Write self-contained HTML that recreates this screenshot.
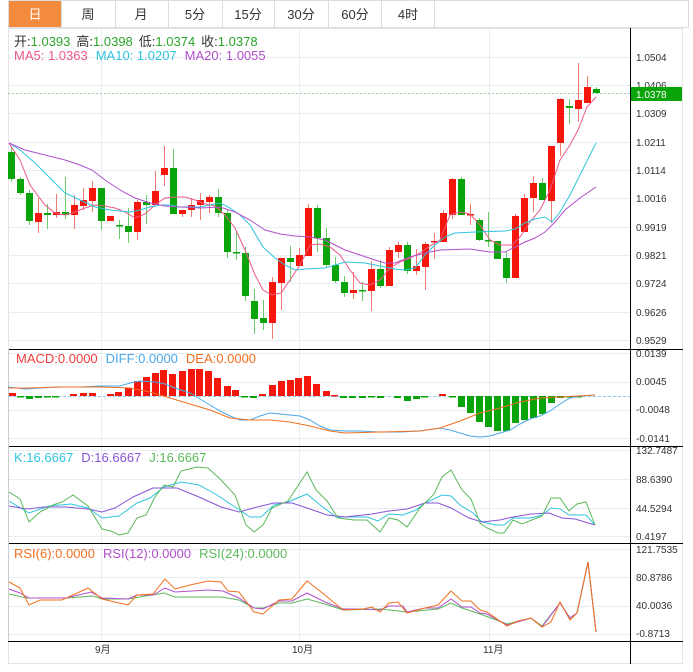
<!DOCTYPE html>
<html><head><meta charset="utf-8">
<style>
body{margin:0;background:#fff;width:693px;height:672px;overflow:hidden;font-family:"Liberation Sans","Noto Sans CJK SC",sans-serif;}
svg{position:absolute;left:0;top:0}
text{font-family:"Liberation Sans","Noto Sans CJK SC",sans-serif;}
</style></head><body>
<svg id="s" width="693" height="672" xmlns="http://www.w3.org/2000/svg">
<!-- tabs -->
<rect x="8.5" y="0.5" width="680" height="27" fill="#fff" stroke="#ddd"/>
<rect x="9" y="1" width="52" height="26" fill="#f38a3e"/>
<g stroke="#ddd"><line x1="61.5" y1="0" x2="61.5" y2="28"/><line x1="115.5" y1="0" x2="115.5" y2="28"/><line x1="168.5" y1="0" x2="168.5" y2="28"/><line x1="222.5" y1="0" x2="222.5" y2="28"/><line x1="274.5" y1="0" x2="274.5" y2="28"/><line x1="328.5" y1="0" x2="328.5" y2="28"/><line x1="381.5" y1="0" x2="381.5" y2="28"/><line x1="434.5" y1="0" x2="434.5" y2="28"/></g>
<g font-size="13" text-anchor="middle" fill="#333">
<text x="35" y="19" fill="#fff">日</text><text x="88" y="19">周</text><text x="141" y="19">月</text><text x="195" y="19">5分</text><text x="248" y="19">15分</text><text x="301" y="19">30分</text><text x="355" y="19">60分</text><text x="408" y="19">4时</text>
</g>
<!-- frame -->
<rect x="8.5" y="28.5" width="674" height="635" fill="none" stroke="#e4e4e4"/>
<g id="grid" stroke="#e6eef3" stroke-width="1"></g>
<g stroke="#000"><line x1="8" y1="349.5" x2="683" y2="349.5"/><line x1="8" y1="446.5" x2="683" y2="446.5"/><line x1="8" y1="543.5" x2="683" y2="543.5"/><line x1="8" y1="641.5" x2="683" y2="641.5"/><line x1="630.5" y1="28" x2="630.5" y2="664"/><line x1="8.5" y1="349" x2="8.5" y2="641" stroke="#ccc"/></g>
<g id="plot"></g>
<!-- axis labels -->
<g font-size="10" fill="#333" id="ax">
<text x="636" y="61">1.0504</text><text x="636" y="89">1.0406</text><text x="636" y="117">1.0309</text><text x="636" y="146">1.0211</text><text x="636" y="174">1.0114</text><text x="636" y="202">1.0016</text><text x="636" y="231">0.9919</text><text x="636" y="259">0.9821</text><text x="636" y="287">0.9724</text><text x="636" y="316">0.9626</text><text x="636" y="344">0.9529</text>
<text x="636" y="357">0.0139</text><text x="636" y="385">0.0045</text><text x="636" y="413">-0.0048</text><text x="636" y="442">-0.0141</text>
<text x="636" y="454">132.7487</text><text x="636" y="483">88.6390</text><text x="636" y="512">44.5294</text><text x="636" y="540">0.4197</text>
<text x="636" y="553">121.7535</text><text x="636" y="581">80.8786</text><text x="636" y="609">40.0036</text><text x="636" y="637">-0.8713</text>
<text x="95" y="653">9月</text><text x="292" y="653">10月</text><text x="483" y="653">11月</text>
</g>
<rect x="631" y="87" width="51" height="14" fill="#09a30a"/>
<text x="636" y="98" font-size="10" fill="#fff">1.0378</text>
<!-- legends -->
<g font-size="13">
<text x="14" y="46"><tspan fill="#333">开:</tspan><tspan fill="#2aa52a">1.0393</tspan><tspan fill="#333" dx="6">高:</tspan><tspan fill="#2aa52a">1.0398</tspan><tspan fill="#333" dx="6">低:</tspan><tspan fill="#2aa52a">1.0374</tspan><tspan fill="#333" dx="6">收:</tspan><tspan fill="#2aa52a">1.0378</tspan></text>
<text x="14" y="60"><tspan fill="#ee5a86">MA5: 1.0363</tspan><tspan fill="#2fc4de" dx="8">MA10: 1.0207</tspan><tspan fill="#b34fcc" dx="8">MA20: 1.0055</tspan></text>
<text x="16" y="363"><tspan fill="#f03c3c">MACD:0.0000</tspan><tspan fill="#4aa8e8" dx="8">DIFF:0.0000</tspan><tspan fill="#f07020" dx="8">DEA:0.0000</tspan></text>
<text x="14" y="462"><tspan fill="#2fc4de">K:16.6667</tspan><tspan fill="#8a55d6" dx="8">D:16.6667</tspan><tspan fill="#5cb85c" dx="8">J:16.6667</tspan></text>
<text x="14" y="558"><tspan fill="#f07020">RSI(6):0.0000</tspan><tspan fill="#b34fcc" dx="8">RSI(12):0.0000</tspan><tspan fill="#5cb85c" dx="8">RSI(24):0.0000</tspan></text>
</g>
</svg>
<script>
var NS="http://www.w3.org/2000/svg",g=document.getElementById('plot'),gr=document.getElementById('grid');
function el(p,t,a){var e=document.createElementNS(NS,t);for(var k in a)e.setAttribute(k,a[k]);p.appendChild(e);return e;}
[57,85,113,142,170,198,227,255,283,312,340,353,382,410,438,450,479,508,536,549,577,606,634].forEach(function(y){el(gr,'line',{x1:8,x2:630,y1:y+.5,y2:y+.5});});
[101,299,489].forEach(function(x){el(gr,'line',{x1:x+.5,x2:x+.5,y1:28,y2:641});});
el(g,'line',{x1:8,x2:630,y1:93.5,y2:93.5,stroke:'#9fd49f','stroke-dasharray':'2,2'});
el(g,'line',{x1:8,x2:630,y1:396.5,y2:396.5,stroke:'#8ccfe8','stroke-dasharray':'3,2'});
var C=[[152,179,147,182,0],[179,193,177,195,0],[193,221,190,225,0],[213,222,198,233,1],[213,215,204,229,0],[212,215,194,218,1],[212,215,177,219,0],[205,215,195,229,1],[200,206,188,210,1],[188,201,181,212,1],[188,221,188,230,0],[216,221,216,221,1],[225,226,220,239,0],[226,232,208,243,0],[202,232,200,240,1],[202,205,195,224,0],[191,205,171,205,1],[168,175,146,186,1],[168,214,149,214,0],[210,214,210,217,1],[205,210,198,217,1],[200,205,193,220,1],[197,202,195,213,1],[197,213,189,217,0],[213,252,210,258,0],[252,253,231,260,0],[253,296,247,301,0],[301,319,289,334,0],[318,323,300,330,0],[282,323,277,339,1],[258,283,258,310,1],[258,262,246,282,0],[255,266,248,266,1],[208,256,204,256,1],[208,238,205,252,0],[238,265,228,268,0],[265,281,257,283,0],[282,293,276,297,0],[290,293,272,299,1],[290,291,282,301,0],[269,291,261,311,1],[269,286,260,288,0],[250,286,247,286,1],[245,252,242,258,1],[245,271,242,274,0],[266,271,249,275,1],[244,267,242,290,1],[241,242,233,259,1],[213,242,210,242,1],[179,215,178,219,1],[179,215,177,215,0],[214,215,204,225,1],[220,240,218,241,0],[240,241,212,247,0],[241,259,241,259,0],[258,278,252,283,0],[216,278,214,278,1],[198,232,194,232,1],[183,198,176,212,1],[183,200,178,200,0],[146,201,146,223,1],[99,143,98,156,1],[106,108,99,124,0],[100,109,63,122,1],[87,103,76,103,1],[89,93,87,93,0]];
C.forEach(function(c,i){var x=11+9*i,col=c[4]?'#f5170b':'#09a30a',wc=c[4]?'#f07a72':'#6ccb6c';
el(g,'line',{x1:x+.5,x2:x+.5,y1:c[2],y2:c[3],stroke:wc});
el(g,'rect',{x:x-3,y:c[0],width:7,height:Math.max(1.5,c[1]-c[0]),fill:col});});
function pl(pts,col){el(g,'polyline',{points:pts,fill:'none',stroke:col,'stroke-width':1});}
pl("9,143 20,160 30,185 45,205 55,213 65,215 75,212 85,208 95,205 105,206 115,208 125,212 135,218 145,214 155,205 165,198 175,197 185,197 195,200 205,204 215,206 225,215 235,228 245,250 255,275 263,290 272,295 281,293 290,280 300,265 310,245 320,244 330,247 340,255 350,270 360,283 370,285 380,280 390,268 400,262 410,258 420,253 430,246 440,240 450,215 460,212 470,214 480,225 490,240 500,245 512,245 520,237 530,222 540,210 550,190 560,160 570,145 578,130 587,107 596,97","#ee5a86");
pl("9,143 20,150 35,163 50,178 65,193 80,200 95,207 110,210 120,211 130,212 140,210 150,207 160,205 170,205 180,207 200,207 210,205 220,203 230,208 240,215 250,225 263,247 275,258 285,265 295,270 305,269 325,268 335,265 345,262 365,263 375,265 385,267 395,269 405,270 415,268 425,255 435,245 445,237 455,233 475,232 505,231 515,229 525,223 535,219 545,217 552,222 560,212 570,195 580,175 596,143","#2fc4de");
pl("9,143 25,150 45,155 65,160 80,165 92,170 105,180 120,190 135,198 150,203 165,206 180,207 200,208 220,207 235,212 250,220 265,230 280,234 295,236 310,237 325,240 335,245 345,250 360,255 375,260 385,263 395,263 410,257 425,253 440,250 470,249 490,252 505,252 515,247 525,242 535,238 545,232 555,222 565,210 580,198 596,187","#b34fcc");
var M=[[12,393],[20,397],[29,399],[38,398],[47,397],[55,397],[73,394],[83,393],[92,393],[110,394],[118,392],[128,388],[137,381],[146,377],[155,373],[163,370],[172,374],[182,371],[191,369],[199,369],[208,371],[217,378],[227,386],[235,390],[244,397],[253,398],[262,394],[272,385],[281,381],[290,380],[298,378],[307,376],[316,384],[326,391],[334,395],[343,398],[352,398],[362,398],[371,397],[380,398],[397,398],[407,401],[416,399],[424,397],[442,394],[452,397],[461,407],[470,413],[479,422],[488,427],[497,431],[506,431],[515,423],[524,420],[533,418],[542,414],[551,403],[560,398],[569,397],[578,397]];
M.forEach(function(m){var y0=396,y=m[1];var up=y<y0;el(g,'rect',{x:m[0]-3,y:Math.min(y,y0),width:7,height:Math.max(1.5,Math.abs(y-y0)),fill:up?'#f5170b':'#09a30a'});});
pl("8,387 25,389 40,388 60,387 80,387 100,386 120,386 130,383 140,381 155,382 165,384 175,388 190,393 200,399 210,405 220,411 230,416 240,420 250,420 260,416 270,413 280,414 300,416 310,420 320,426 330,430 345,431 360,431 380,432 400,432 420,431 440,428 450,430 460,433 470,436 480,437 490,436 500,433 510,430 520,424 530,419 540,416 550,411 560,404 570,398 580,396 595,395","#4aa8e8");
pl("8,388 30,388 60,387 100,387 130,388 150,392 170,398 190,404 210,410 230,418 250,420 270,420 290,422 310,426 330,431 345,433 380,432 420,431 440,428 460,421 480,413 500,408 520,402 540,398 560,397 595,395","#f07020");
pl("9,501 29,513 49,506 71,504 88,508 102,518 119,516 137,503 150,498 164,487 181,482 199,485 217,495 235,507 250,517 261,517 274,505 288,502 307,494 319,504 336,517 354,517 367,517 378,521 389,514 403,515 416,510 425,503 442,495 451,496 460,505 473,513 482,522 496,525 504,525 513,518 531,518 542,515 551,508 560,509 569,515 586,515 595,525","#2fc4de");
pl("9,506 27,509 44,507 66,507 88,509 102,512 115,508 133,497 153,488 177,488 199,497 221,507 239,512 257,507 274,503 292,503 310,509 327,515 345,517 372,514 389,511 407,509 425,503 438,503 451,508 469,518 482,522 500,520 513,517 531,514 549,513 562,518 575,519 595,525","#8a55d6");
pl("9,492 20,499 29,522 40,512 53,505 62,502 73,495 88,506 102,529 111,531 119,535 128,533 137,518 146,515 155,497 164,485 173,487 181,471 197,467 208,468 221,480 235,495 246,525 254,532 263,525 272,508 288,501 307,472 316,490 327,501 338,518 354,520 367,520 380,532 389,518 398,520 407,527 420,508 434,494 442,477 451,470 462,490 471,499 480,523 487,528 498,533 504,533 513,520 522,524 542,516 551,498 560,498 569,511 577,504 586,502 595,525","#5cb85c");
pl("9,594 27,598 66,598 93,596 102,599 128,599 164,593 175,597 221,597 239,600 254,608 263,608 279,603 292,603 307,599 325,604 343,610 381,609 407,612 438,609 451,603 462,608 480,614 507,624 531,618 542,626 560,603 570,618 577,613 588,562 596,632","#5cb85c");
pl("9,589 20,593 29,598 44,598 66,598 91,592 102,598 128,599 137,595 153,595 165,588 175,592 208,590 223,591 239,598 254,608 263,609 279,601 292,601 307,593 325,602 343,609 363,609 380,610 389,606 403,606 407,612 425,608 438,608 451,599 462,607 471,607 480,613 487,614 507,625 531,618 542,627 560,603 570,618 577,613 588,562 596,632","#b34fcc");
pl("9,582 20,588 29,605 40,600 62,600 88,588 102,599 128,605 137,595 153,594 165,579 175,589 190,585 208,581 221,582 228,591 239,592 254,612 263,614 279,600 292,599 307,581 325,595 343,610 363,609 372,607 380,612 389,603 398,602 407,613 425,608 438,605 451,591 462,601 471,601 480,610 487,612 507,626 518,621 531,618 542,627 551,622 560,602 570,620 577,613 588,562 596,632","#f07020");
</script>
</body></html>
